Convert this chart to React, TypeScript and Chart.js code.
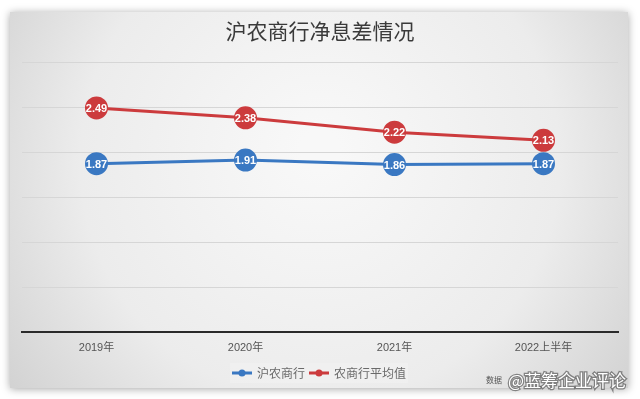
import React, { useEffect, useRef } from "react";
import { Chart, registerables } from "chart.js";

Chart.register(...registerables);

const TITLE = "沪农商行净息差情况";
const CATEGORIES = ["2019年", "2020年", "2021年", "2022上半年"];
const SERIES_NAMES = ["沪农商行", "农商行平均值"];
const SHANGHAI_VALUES = [1.87, 1.91, 1.86, 1.87];
const AVERAGE_VALUES = [2.49, 2.38, 2.22, 2.13];
const WATERMARK = "@蓝筹企业评论";
const WATERMARK_PREFIX = "数据";

const BLUE = "#3a78c2";
const RED = "#cc3b3d";

export default function App() {
  const ref = useRef<HTMLCanvasElement | null>(null);

  useEffect(() => {
    document.body.style.margin = "0";
    const canvas = ref.current;
    if (!canvas) return;

    const bgPlugin = {
      id: "bgPlugin",
      beforeDraw(chart: any) {
        const ctx = chart.ctx;
        ctx.save();
        ctx.fillStyle = "#ffffff";
        ctx.fillRect(0, 0, chart.width, chart.height);
        ctx.shadowColor = "rgba(0,0,0,0.35)";
        ctx.shadowBlur = 8;
        ctx.shadowOffsetX = 0;
        ctx.shadowOffsetY = 1;
        const g = ctx.createRadialGradient(320, 150, 20, 320, 170, 420);
        g.addColorStop(0, "#f8f8f8");
        g.addColorStop(0.55, "#ececec");
        g.addColorStop(1, "#cbcbcb");
        ctx.fillStyle = g;
        ctx.fillRect(10, 12, 618, 376);
        ctx.restore();
      },
      afterDraw(chart: any) {
        const ctx = chart.ctx;
        ctx.save();
        // title
        ctx.fillStyle = "#3a3a3a";
        ctx.font = "21px 'Noto Sans CJK SC'";
        ctx.textAlign = "center";
        ctx.textBaseline = "middle";
        ctx.fillText(TITLE, 320, 31);

        // legend
        ctx.fillStyle = "rgba(240,240,240,0.9)";
        ctx.fillRect(230, 363, 178, 20);
        ctx.font = "12px 'Noto Sans CJK SC'";
        ctx.textAlign = "left";
        const items = [
          { x: 232, color: BLUE, label: SERIES_NAMES[0] },
          { x: 309, color: RED, label: SERIES_NAMES[1] },
        ];
        items.forEach((it) => {
          ctx.strokeStyle = it.color;
          ctx.lineWidth = 3;
          ctx.beginPath();
          ctx.moveTo(it.x, 373);
          ctx.lineTo(it.x + 20, 373);
          ctx.stroke();
          ctx.fillStyle = it.color;
          ctx.beginPath();
          ctx.arc(it.x + 10, 373, 3.5, 0, Math.PI * 2);
          ctx.fill();
          ctx.fillStyle = "#6a6a6a";
          ctx.fillText(it.label, it.x + 25, 373);
        });

        // watermark
        ctx.font = "8px 'Noto Sans CJK SC'";
        ctx.fillStyle = "#555";
        ctx.fillText(WATERMARK_PREFIX, 486, 380);
        ctx.font = "17px 'Noto Sans CJK SC'";
        ctx.lineWidth = 2.5;
        ctx.strokeStyle = "rgba(90,90,90,0.7)";
        ctx.strokeText(WATERMARK, 508, 381);
        ctx.fillStyle = "#ffffff";
        ctx.fillText(WATERMARK, 508, 381);
        ctx.restore();
      },
      afterDatasetsDraw(chart: any) {
        const ctx = chart.ctx;
        ctx.save();
        ctx.fillStyle = "#ffffff";
        ctx.font = "bold 11px Arial, 'Liberation Sans'";
        ctx.textAlign = "center";
        ctx.textBaseline = "middle";
        chart.data.datasets.forEach((ds: any, i: number) => {
          const meta = chart.getDatasetMeta(i);
          meta.data.forEach((pt: any, j: number) => {
            ctx.fillText(ds.data[j].toFixed(2), pt.x, pt.y + 1);
          });
        });
        ctx.restore();
      },
    };

    const chart = new Chart(canvas, {
      type: "line",
      data: {
        labels: CATEGORIES,
        datasets: [
          {
            label: SERIES_NAMES[0],
            data: SHANGHAI_VALUES,
            borderColor: BLUE,
            backgroundColor: BLUE,
            pointBackgroundColor: BLUE,
            pointBorderColor: BLUE,
            borderWidth: 3,
            pointRadius: 10,
            pointHoverRadius: 10,
            tension: 0,
          },
          {
            label: SERIES_NAMES[1],
            data: AVERAGE_VALUES,
            borderColor: RED,
            backgroundColor: RED,
            pointBackgroundColor: RED,
            pointBorderColor: RED,
            borderWidth: 3,
            pointRadius: 10,
            pointHoverRadius: 10,
            tension: 0,
          },
        ],
      },
      options: {
        animation: false,
        responsive: false,
        maintainAspectRatio: false,
        layout: { padding: { left: 22, right: 22, top: 62, bottom: 0 } },
        plugins: {
          legend: { display: false },
          title: { display: false },
          tooltip: { enabled: false },
        },
        scales: {
          x: {
            offset: true,
            grid: { display: false, drawTicks: false },
            border: { display: true, color: "#2a2a2a", width: 2 },
            ticks: {
              color: "#555",
              font: { size: 11, family: "Arial, 'Noto Sans CJK SC'" },
              padding: 9,
            },
            afterFit: (s: any) => {
              s.height = 67;
            },
          },
          y: {
            min: 0,
            max: 3,
            ticks: { display: false, stepSize: 0.5 },
            grid: { color: "#d6d6d6", lineWidth: 1, drawTicks: false },
            border: { display: false },
            afterFit: (s: any) => {
              s.width = 0;
            },
          },
        },
      },
      plugins: [bgPlugin],
    });

    return () => chart.destroy();
  }, []);

  return <canvas ref={ref} width={640} height={399} style={{ display: "block" }} />;
}
